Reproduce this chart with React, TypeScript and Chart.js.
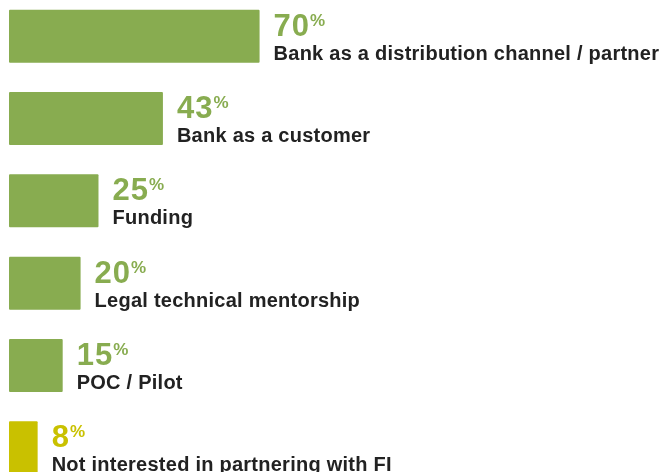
import React, { useEffect, useRef } from "react";
import { Chart, registerables } from "chart.js";

Chart.register(...registerables);

const categories: string[] = [
  "Bank as a distribution channel / partner",
  "Bank as a customer",
  "Funding",
  "Legal technical mentorship",
  "POC / Pilot",
  "Not interested in partnering with FI",
];
const values: number[] = [70, 43, 25, 20, 15, 8];
const barColors: string[] = ["#88ac50", "#88ac50", "#88ac50", "#88ac50", "#88ac50", "#c9c100"];

const FONT = '"Liberation Sans", Arial, Helvetica, sans-serif';

const labelPlugin = {
  id: "barLabels",
  afterDatasetsDraw(chart: any) {
    const ctx = chart.ctx as any;
    const meta = chart.getDatasetMeta(0);
    ctx.save();
    meta.data.forEach((bar: any, i: number) => {
      const props = bar.getProps(["x", "y", "height"], true);
      const top = props.y - props.height / 2;
      const x0 = props.x + 14;
      const color = barColors[i];
      ctx.textAlign = "left";
      ctx.textBaseline = "alphabetic";
      // number
      ctx.font = `bold 31px ${FONT}`;
      ctx.letterSpacing = "1px";
      ctx.fillStyle = color;
      const num = String(values[i]);
      ctx.fillText(num, x0, top + 26);
      const w = ctx.measureText(num).width;
      ctx.letterSpacing = "0px";
      ctx.font = `bold 17px ${FONT}`;
      ctx.fillText("%", x0 + w, top + 16);
      // description
      ctx.font = `bold 20px ${FONT}`;
      ctx.letterSpacing = "0.25px";
      ctx.fillStyle = "#222222";
      ctx.fillText(categories[i], x0, top + 50);
      ctx.letterSpacing = "0px";
    });
    ctx.restore();
  },
};

export default function App() {
  const ref = useRef<HTMLCanvasElement | null>(null);
  useEffect(() => {
    if (!ref.current) return;
    const chart = new Chart(ref.current, {
      type: "bar",
      data: {
        labels: categories,
        datasets: [
          {
            data: values,
            backgroundColor: barColors,
            borderRadius: 1,
            borderSkipped: false,
            barPercentage: 0.644,
            categoryPercentage: 1,
          },
        ],
      },
      options: {
        indexAxis: "y",
        responsive: false,
        animation: false,
        devicePixelRatio: 1,
        layout: { padding: { left: 9, right: 0, top: 0, bottom: 0 } },
        plugins: { legend: { display: false }, tooltip: { enabled: false } },
        scales: {
          x: { display: false, min: 0, max: 182.7 },
          y: { display: false },
        },
      },
      plugins: [labelPlugin],
    });
    return () => chart.destroy();
  }, []);
  return (
    <div
      style={{
        position: "fixed",
        left: 0,
        top: 0,
        width: 663,
        height: 472,
        overflow: "hidden",
        background: "#ffffff",
      }}
    >
      <canvas
        ref={ref}
        width={663}
        height={494}
        style={{ position: "absolute", left: 0, top: -5, width: 663, height: 494 }}
      />
    </div>
  );
}
